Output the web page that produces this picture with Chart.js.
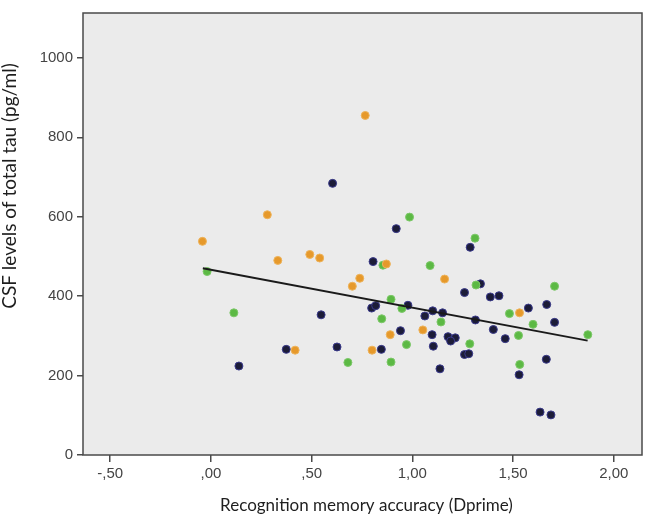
<!DOCTYPE html>
<html>
<head>
<meta charset="utf-8">
<script src="https://cdn.jsdelivr.net/npm/chart.js@4/dist/chart.umd.min.js"></script>
<style>
  html, body { margin: 0; padding: 0; background: #fff; }
  #wrap { width: 647px; height: 516px; }
</style>
</head>
<body>
<div id="wrap"><canvas id="tauChart" width="647" height="516"></canvas></div>
<script>
// Values
const orangeX = [0.766, 0.280, -0.042, 0.332, 0.491, 0.540, 0.739, 0.702, 0.871, 1.160, 1.532, 1.052, 0.890, 0.800, 0.418];
const orangeY = [855, 605, 538, 490, 505, 496, 445, 425, 481, 443, 358, 315, 303, 264, 264];

const greenX = [0.986, 1.311, 0.854, 1.088, 1.316, 1.706, 0.894, 0.948, 1.482, 0.848, 1.142, 1.599, 1.527, 1.871, 0.971, 1.285, 0.894, 1.533, -0.019, 0.114, 0.680];
const greenY = [599, 546, 478, 477, 428, 425, 392, 369, 356, 343, 335, 329, 301, 303, 278, 280, 234, 228, 462, 358, 233];

const navyX = [0.920, 1.287, 0.805, 1.338, 1.259, 1.387, 1.430, 0.798, 0.818, 0.978, 1.667, 1.576, 1.101, 1.150, 1.062, 1.313, 1.706, 0.941, 1.402, 1.098, 1.177, 1.213, 1.190, 1.461, 0.846, 1.104, 1.259, 1.280, 1.665, 1.530, 1.137, 1.634, 1.688, 0.604, 0.547, 0.374, 0.626, 0.139];
const navyY = [570, 523, 487, 431, 409, 398, 401, 370, 376, 377, 379, 370, 363, 358, 350, 340, 334, 313, 316, 303, 298, 295, 287, 293, 266, 274, 253, 255, 241, 202, 217, 108, 101, 684, 353, 266, 272, 224];

// fit line end points
const fitX = [-0.04, 1.87];
const fitY = [470, 288];

const xTicks = [-0.5, 0, 0.5, 1, 1.5, 2];
const xTickLabels = ['-,50', ',00', ',50', '1,00', '1,50', '2,00'];
const yTicks = [0, 200, 400, 600, 800, 1000];
const yTickLabels = ['0', '200', '400', '600', '800', '1000'];

const xTitle = 'Recognition memory accuracy (Dprime)';
const yTitle = 'CSF levels of total tau (pg/ml)';

Chart.defaults.font.family = "'Liberation Sans', Arial, sans-serif";

function pts(xs, ys) {
    return xs.map((x, i) => ({ x: x, y: ys[i] }));
}

const plotFrame = {
    id: 'plotFrame',
    beforeDraw(chart) {
        const { ctx, chartArea: a } = chart;
        ctx.save();
        ctx.fillStyle = '#ebebeb';
        ctx.fillRect(a.left, a.top, a.right - a.left, a.bottom - a.top);
        ctx.restore();
    },
    afterDraw(chart) {
        const { ctx, chartArea: a } = chart;
        ctx.save();
        ctx.strokeStyle = '#4a4a4a';
        ctx.lineWidth = 1.5;
        ctx.strokeRect(a.left, a.top, a.right - a.left, a.bottom - a.top);

        ctx.fillStyle = '#1e1e1e';
        ctx.textAlign = 'center';
        ctx.textBaseline = 'alphabetic';
        ctx.font = '17px Lato, "Open Sans", sans-serif';
        ctx.fillText(xTitle, (a.left + a.right) / 2 + 4, 511);

        ctx.font = '19px Lato, "Open Sans", sans-serif';
        ctx.translate(16, 186);
        ctx.rotate(-Math.PI / 2);
        ctx.fillText(yTitle, 0, 0);
        ctx.restore();
    }
};

new Chart(document.getElementById('tauChart'), {
    type: 'scatter',
    data: {
        datasets: [
            {
                type: 'line',
                label: 'Fit',
                data: pts(fitX, fitY),
                borderColor: '#1a1a1a',
                borderWidth: 2,
                pointRadius: 0,
                fill: false
            },
            {
                label: 'Orange',
                data: pts(orangeX, orangeY),
                backgroundColor: '#e6992b',
                borderColor: '#eeb35a',
                borderWidth: 1,
                pointRadius: 4
            },
            {
                label: 'Green',
                data: pts(greenX, greenY),
                backgroundColor: '#5cb944',
                borderColor: '#7cc868',
                borderWidth: 1,
                pointRadius: 4
            },
            {
                label: 'Navy',
                data: pts(navyX, navyY),
                backgroundColor: '#1c1c38',
                borderColor: '#3a3a8c',
                borderWidth: 1,
                pointRadius: 4
            }
        ]
    },
    options: {
        responsive: false,
        animation: false,
        layout: { padding: { top: 1, right: 2, left: 0, bottom: 0 } },
        plugins: {
            legend: { display: false },
            tooltip: { enabled: false }
        },
        scales: {
            x: {
                type: 'linear',
                min: -0.635,
                max: 2.14,
                afterFit: s => { s.height = 61; },
                afterBuildTicks: s => { s.ticks = xTicks.map(v => ({ value: v })); },
                border: { display: false },
                grid: { drawOnChartArea: false, drawTicks: true, tickLength: 7, color: '#4a4a4a', lineWidth: 1.5 },
                ticks: {
                    padding: 3,
                    maxRotation: 0,
                    color: '#444',
                    font: { family: "'Liberation Sans', Arial, sans-serif", size: 15 },
                    callback: (v) => xTickLabels[xTicks.indexOf(v)]
                }
            },
            y: {
                type: 'linear',
                min: 0,
                max: 1113,
                afterFit: s => { s.width = 83; },
                afterBuildTicks: s => { s.ticks = yTicks.map(v => ({ value: v })); },
                border: { display: false },
                grid: { drawOnChartArea: false, drawTicks: true, tickLength: 6, color: '#4a4a4a', lineWidth: 1.5 },
                ticks: {
                    padding: 4,
                    color: '#444',
                    font: { family: "'Liberation Sans', Arial, sans-serif", size: 15 },
                    callback: (v) => yTickLabels[yTicks.indexOf(v)]
                }
            }
        }
    },
    plugins: [plotFrame]
});
</script>
</body>
</html>
